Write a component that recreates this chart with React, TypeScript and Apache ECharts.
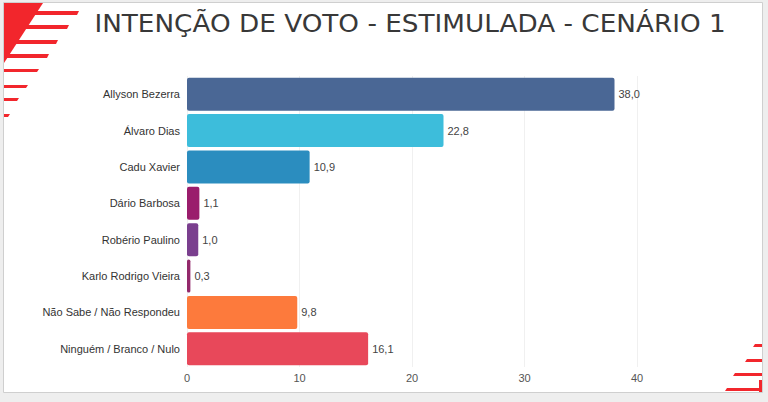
import React, { useEffect, useRef } from "react";
import * as echarts from "echarts";

// dados da pesquisa (%)
const candidatos = [
  "Allyson Bezerra",
  "Álvaro Dias",
  "Cadu Xavier",
  "Dário Barbosa",
  "Robério Paulino",
  "Karlo Rodrigo Vieira",
  "Não Sabe / Não Respondeu",
  "Ninguém / Branco / Nulo",
];
const votos = [38.0, 22.8, 10.9, 1.1, 1.0, 0.3, 9.8, 16.1];
const cores = [
  "#4a6795",
  "#3dbddb",
  "#2b8dbf",
  "#9a1d6c",
  "#7a3f8e",
  "#93296b",
  "#fd7a3c",
  "#e8485a",
];
const titulo = "INTENÇÃO DE VOTO - ESTIMULADA - CENÁRIO 1";

const RED = "#f2262c";

// faixas decorativas (canto superior esquerdo e inferior direito)
const faixasTopo = [
  [11, 77, 4],
  [25, 67, 4],
  [40, 56, 4],
  [54, 47, 4],
  [69, 37, 3],
  [85, 26, 3],
  [98, 17, 3],
  [114, 8, 3],
];
const faixasBase = [
  [344, 753, 3],
  [359, 745, 3],
  [373, 733, 3],
  [388, 725, 3],
];

const App: React.FC = () => {
  const chartRef = useRef<HTMLDivElement>(null);

  useEffect(() => {
    if (!chartRef.current) return;
    const chart = echarts.init(chartRef.current, null, { renderer: "svg" });

    const deco: any[] = [
      {
        type: "rect",
        shape: { x: 3.5, y: 2.5, width: 759, height: 390 },
        style: { fill: "#fff", stroke: "#cfcfcf", lineWidth: 1 },
        z: -10,
      },
      {
        type: "polygon",
        shape: { points: [[4, 3], [43, 3], [4, 63]] },
        style: { fill: RED },
      },
      ...faixasTopo.map(([y, x2, h]) => ({
        type: "polygon",
        shape: {
          points: [
            [4, y],
            [x2 + 2, y],
            [x2, y + h],
            [4, y + h],
          ],
        },
        style: { fill: RED },
      })),
      ...faixasBase.map(([y, x1, h]) => ({
        type: "polygon",
        shape: {
          points: [
            [x1 + 2, y],
            [762, y],
            [762, y + h],
            [x1, y + h],
          ],
        },
        style: { fill: RED },
      })),
      {
        type: "rect",
        shape: { x: 759, y: 380, width: 3, height: 12 },
        style: { fill: RED },
      },
      // título esticado para imitar o espaçamento entre letras
      {
        type: "text",
        x: 410,
        y: 24,
        scaleX: 1.095,
        style: {
          text: titulo,
          fontFamily: "DejaVu Sans",
          fontSize: 24,
          fontWeight: "normal",
          fill: "#383838",
          align: "center",
          verticalAlign: "middle",
        },
      },
    ];

    chart.setOption({
      animation: false,
      backgroundColor: "#eeeeee",
      graphic: deco,
      grid: { left: 187, right: 131, top: 76, bottom: 35 },
      xAxis: {
        type: "value",
        min: 0,
        max: 40,
        interval: 10,
        axisLine: { show: false },
        axisTick: { show: false },
        axisLabel: {
          color: "#555",
          fontSize: 11,
          fontFamily: "Liberation Sans",
          margin: 5,
        },
        splitLine: { lineStyle: { color: "#f0f0f0" } },
      },
      yAxis: {
        type: "category",
        inverse: true,
        data: candidatos,
        axisLine: { show: false },
        axisTick: { show: false },
        axisLabel: {
          color: "#333",
          fontSize: 11,
          fontFamily: "Liberation Sans",
          margin: 7,
        },
      },
      series: [
        {
          type: "bar",
          barCategoryGap: "9%",
          data: votos.map((v, i) => ({
            value: v,
            itemStyle: { color: cores[i], borderRadius: 2 },
          })),
          label: {
            show: true,
            position: "right",
            distance: 4,
            color: "#444",
            fontSize: 11,
            fontFamily: "Liberation Sans",
            formatter: (p: any) => p.value.toFixed(1).replace(".", ","),
          },
        },
      ],
    });

    return () => chart.dispose();
  }, []);

  return (
    <div
      ref={chartRef}
      style={{ position: "fixed", left: 0, top: 0, width: 768, height: 402 }}
    />
  );
};

export default App;
